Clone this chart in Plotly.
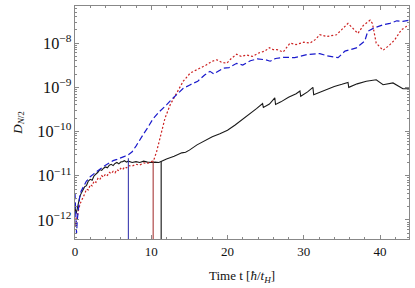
import plotly.graph_objects as go

# ---- data ----
t_black = [0.0, 0.15, 0.3, 0.45, 0.6, 0.75, 1.0, 1.25, 1.5, 1.75, 2.0, 2.25, 2.5, 2.75, 3.0, 3.25, 3.5, 3.75,
           4.0, 4.25, 4.5, 4.75, 5.0, 5.25, 5.5, 5.75, 6.0, 6.25, 6.5, 6.75, 7.0, 7.5, 8.0, 8.5, 9.0, 9.5,
           10.0, 10.5, 11.0, 11.5, 12.0, 13.0, 14.0, 14.5, 15.0, 16.0, 17.0, 18.0, 19.0, 20.0, 21.0, 22.0,
           23.0, 23.8, 24.6, 24.7, 25.5, 26.2, 26.3, 27.0, 28.0, 29.0, 29.5, 29.6, 30.5, 31.2, 31.3, 32.0,
           33.0, 34.0, 35.0, 35.8, 35.9, 37.0, 38.2, 39.5, 40.4, 41.7, 43.0, 43.9]
d_black = [1.9e-12, 1.4e-12, 1.8e-12, 2.5e-12, 3.2e-12, 3.8e-12, 4.5e-12, 5.6e-12, 6.0e-12, 7.6e-12,
           8.3e-12, 7.9e-12, 1.0e-11, 1.07e-11, 1.2e-11, 1.38e-11, 1.32e-11, 1.48e-11, 1.58e-11, 1.51e-11,
           1.74e-11, 1.82e-11, 1.7e-11, 1.9e-11, 2.0e-11, 1.86e-11, 2.04e-11, 2.09e-11, 2.19e-11, 2.04e-11,
           2.14e-11, 2.0e-11, 2.09e-11, 2.0e-11, 2.14e-11, 2.04e-11, 2.0e-11, 2.04e-11, 2.0e-11, 2.19e-11,
           2.4e-11, 2.75e-11, 3.3e-11, 3.4e-11, 3.8e-11, 5.0e-11, 6.3e-11, 7.6e-11, 8.9e-11, 1.07e-10,
           1.41e-10, 1.9e-10, 2.5e-10, 3.3e-10, 4.3e-10, 3.5e-10, 4.2e-10, 5.8e-10, 4.1e-10, 4.7e-10,
           6.0e-10, 7.2e-10, 8.3e-10, 6.3e-10, 7.9e-10, 1.0e-9, 6.8e-10, 7.6e-10, 8.9e-10, 1.05e-9,
           1.17e-9, 1.29e-9, 1.0e-9, 1.2e-9, 1.38e-9, 1.48e-9, 1.15e-9, 1.26e-9, 9.3e-10, 9.3e-10]

t_blue = [0.0, 0.1, 0.2, 0.3, 0.45, 0.6, 0.8, 1.0, 1.25, 1.5, 1.75, 2.0, 2.5, 3.0, 3.5, 4.0, 4.5, 5.0,
          5.5, 6.0, 6.5, 7.0, 7.5, 8.0, 8.5, 9.0, 9.5, 10.2, 11.0, 11.5, 12.0, 12.8, 13.5, 14.2, 15.0,
          16.1, 17.0, 17.7, 18.2, 19.4, 20.2, 21.2, 22.0, 23.0, 23.9, 25.0, 25.6, 26.3, 27.5, 28.8,
          30.4, 32.1, 33.0, 34.5, 35.4, 36.9, 38.0, 38.4, 39.2, 40.4, 41.3, 42.2, 43.0, 43.9]
d_blue = [4.0e-12, 1.6e-12, 5.0e-13, 1.0e-12, 2.0e-12, 3.2e-12, 4.5e-12, 5.2e-12, 6.3e-12, 7.6e-12,
          8.3e-12, 9.5e-12, 1.12e-11, 1.32e-11, 1.5e-11, 1.74e-11, 2.0e-11, 2.2e-11, 2.35e-11, 2.5e-11,
          2.75e-11, 3.0e-11, 3.5e-11, 4.7e-11, 6.6e-11, 8.9e-11, 1.2e-10, 1.9e-10, 2.75e-10, 3.3e-10,
          4.0e-10, 5.6e-10, 7.4e-10, 9.5e-10, 1.12e-9, 1.38e-9, 1.9e-9, 2.3e-9, 2.0e-9, 2.7e-9, 2.8e-9,
          3.5e-9, 3.2e-9, 4.0e-9, 4.4e-9, 4.2e-9, 3.9e-9, 4.5e-9, 4.8e-9, 4.7e-9, 5.5e-9, 5.8e-9,
          5.2e-9, 4.7e-9, 6.6e-9, 7.8e-9, 1.12e-8, 1.86e-8, 2.2e-8, 2.6e-8, 2.8e-8, 3.2e-8, 3.1e-8, 3.3e-8]

t_red = [0.0, 0.1, 0.2, 0.35, 0.5, 0.7, 0.9, 1.1, 1.3, 1.5, 1.75, 2.0, 2.25, 2.5, 2.75, 3.0, 3.25, 3.5,
         3.75, 4.0, 4.25, 4.5, 4.75, 5.0, 5.25, 5.5, 5.75, 6.0, 6.25, 6.5, 6.75, 7.0, 7.5, 8.0, 8.5, 9.0,
         9.5, 10.0, 10.3, 10.7, 11.1, 11.5, 11.8, 12.5, 13.4, 14.2, 15.1, 15.8, 16.4, 17.2, 18.0, 18.6,
         19.2, 19.9, 20.5, 21.2, 21.8, 22.5, 23.3, 24.1, 24.9, 25.5, 26.0, 26.5, 27.3, 28.2, 29.0, 30.0,
         30.8, 31.5, 32.1, 33.0, 34.3, 35.0, 35.8, 36.4, 37.1, 37.8, 38.7, 39.0, 39.5, 40.4, 41.2, 41.9,
         42.8, 43.5, 43.9]
d_red = [1.1e-12, 7.1e-13, 1.0e-12, 1.4e-12, 1.8e-12, 2.4e-12, 2.8e-12, 3.5e-12, 4.0e-12, 5.0e-12,
         4.8e-12, 6.3e-12, 5.9e-12, 7.6e-12, 7.1e-12, 8.7e-12, 8.1e-12, 1.0e-11, 9.3e-12, 1.1e-11,
         1.02e-11, 1.2e-11, 1.12e-11, 1.26e-11, 1.17e-11, 1.38e-11, 1.29e-11, 1.48e-11, 1.38e-11, 1.58e-11,
         1.51e-11, 1.7e-11, 1.66e-11, 1.82e-11, 1.74e-11, 1.95e-11, 1.9e-11, 2.09e-11, 2.19e-11, 3.5e-11,
         6.9e-11, 1.26e-10, 2.0e-10, 4.1e-10, 8.1e-10, 1.38e-9, 2.1e-9, 2.4e-9, 2.7e-9, 3.2e-9, 3.9e-9,
         4.2e-9, 3.7e-9, 3.5e-9, 4.5e-9, 5.6e-9, 5.0e-9, 5.4e-9, 5.0e-9, 6.0e-9, 6.6e-9, 7.9e-9, 7.1e-9,
         7.1e-9, 6.3e-9, 1.0e-8, 9.3e-9, 1.05e-8, 1.0e-8, 1.2e-8, 1.55e-8, 1.41e-8, 1.55e-8, 2.0e-8,
         2.8e-8, 2.2e-8, 1.66e-8, 2.5e-8, 3.3e-8, 2.8e-8, 1.0e-8, 6.9e-9, 8.9e-9, 1.17e-8, 2.0e-8,
         2.4e-8, 2.5e-8]

# vertical markers: time and curve value where each ends
v_times = [7.0, 10.25, 11.3]
v_tops = [2.5e-11, 2.2e-11, 2.1e-11]
v_colors = ["#3b3bb0", "#a83838", "#111111"]
axis_floor = 1e-13

x_ticks = [0, 10, 20, 30, 40]

fig = go.Figure()
fig.add_trace(go.Scatter(x=t_black, y=d_black, mode="lines",
                         line=dict(color="#1a1a1a", width=1.1)))
fig.add_trace(go.Scatter(x=t_red, y=d_red, mode="lines",
                         line=dict(color="#cc2222", width=1.2, dash="2px,2px")))
fig.add_trace(go.Scatter(x=t_blue, y=d_blue, mode="lines",
                         line=dict(color="#1a1acc", width=1.2, dash="6px,3px")))
for tv, top, c in zip(v_times, v_tops, v_colors):
    fig.add_trace(go.Scatter(x=[tv, tv], y=[axis_floor, top], mode="lines",
                             line=dict(color=c, width=1.1)))

axis_common = dict(showline=True, linecolor="#888888", linewidth=1, mirror="allticks",
                   ticks="inside", ticklen=4, tickcolor="#888888", showgrid=False, zeroline=False,
                   automargin=False,
                   tickfont=dict(family="Liberation Serif", size=13, color="#111111"))

fig.update_layout(
    width=415, height=288,
    margin=dict(l=75, r=6, t=6, b=49),
    paper_bgcolor="white", plot_bgcolor="white",
    showlegend=False,
    xaxis=dict(range=[0, 43.8], tickvals=x_ticks, ticktext=[str(v) for v in x_ticks],
               minor=dict(ticks="inside", ticklen=2, tickcolor="#888888", dtick=2, tick0=0),
               **axis_common),
    yaxis=dict(type="log", range=[-12.43, -7.16], dtick=1, exponentformat="power",
               minor=dict(ticks="inside", ticklen=2, tickcolor="#888888", dtick="D1"),
               **axis_common),
    annotations=[
        dict(text="<i>D</i><sub><i>N</i>/2</sub>", xref="paper", yref="paper",
             x=-0.17, y=0.5, xanchor="center", yanchor="middle", textangle=-90, showarrow=False,
             font=dict(family="Liberation Serif", size=13, color="#111111")),
        dict(text="Time t [<i>ħ</i>/<i>t</i><sub><i>H</i></sub>]", xref="paper", yref="paper",
             x=0.5, y=-0.16, xanchor="center", yanchor="middle", showarrow=False,
             font=dict(family="Liberation Serif", size=13, color="#111111")),
    ],
)

fig.write_html("out.html", config={"displayModeBar": False},
               post_script="document.body.style.margin='0';")
